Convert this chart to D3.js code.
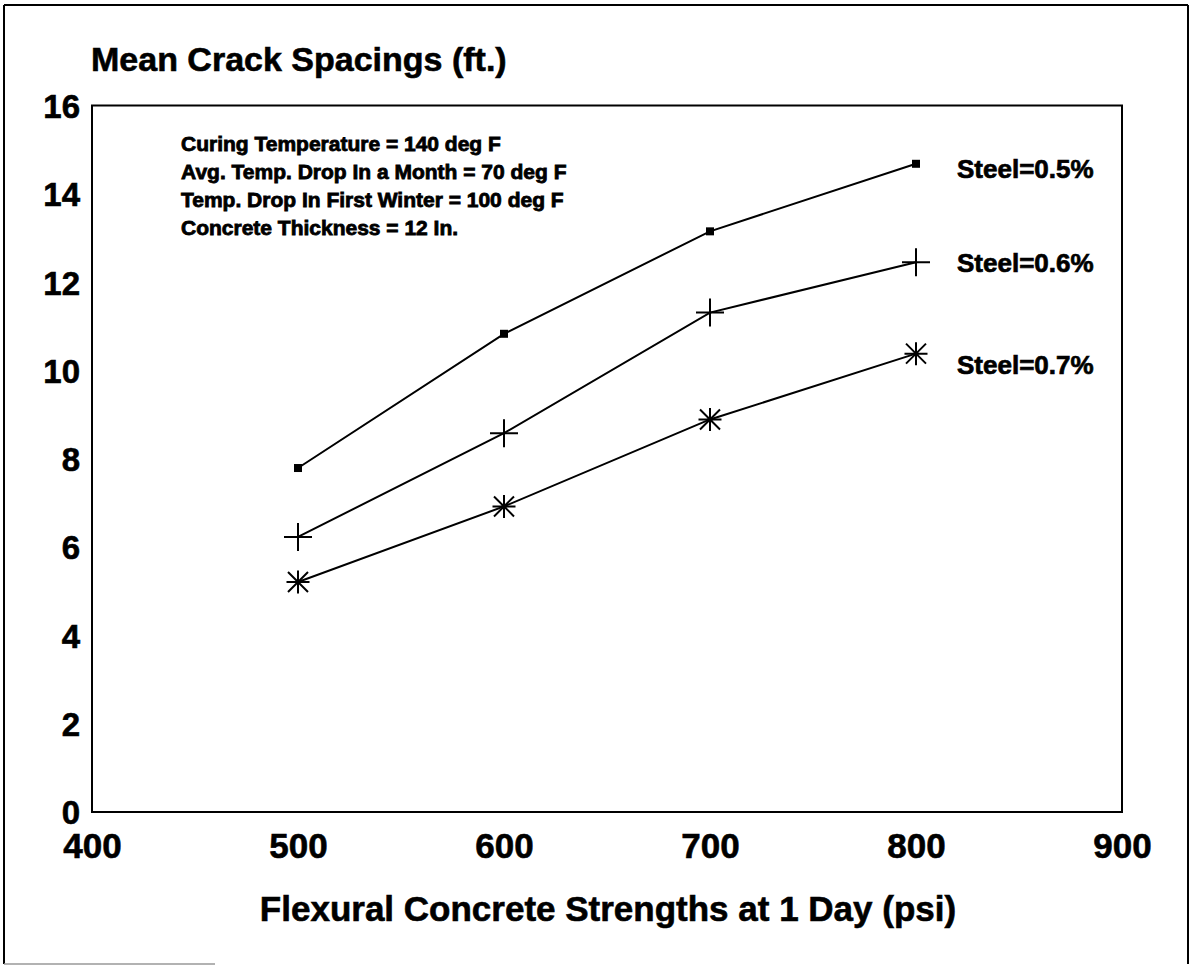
<!DOCTYPE html>
<html>
<head>
<meta charset="utf-8">
<script src="https://cdn.jsdelivr.net/npm/d3@7"></script>
<style>
  html, body { margin: 0; padding: 0; background: #fff; }
  svg text { font-family: "Liberation Sans", Arial, Helvetica, sans-serif; font-weight: bold; fill: #000; }
</style>
</head>
<body>
<svg id="chart" width="1193" height="966"></svg>
<script>
// ---- data ----
const strengths = [500, 600, 700, 800];
const steel05 = [7.79, 10.83, 13.15, 14.68];
const steel06 = [6.23, 8.58, 11.31, 12.45];
const steel07 = [5.21, 6.92, 8.89, 10.38];
const seriesNames = ["Steel=0.5%", "Steel=0.6%", "Steel=0.7%"];
const seriesMarkers = ["square", "plus", "asterisk"];
const xTicks = [400, 500, 600, 700, 800, 900];
const yTicks = [0, 2, 4, 6, 8, 10, 12, 14, 16];
const chartTitle = "Mean Crack Spacings (ft.)";
const xTitle = "Flexural Concrete Strengths at 1 Day (psi)";
const notes = [
  "Curing Temperature = 140 deg F",
  "Avg. Temp. Drop In a Month = 70 deg F",
  "Temp. Drop In First Winter = 100 deg F",
  "Concrete Thickness = 12 In."
];

const series = [steel05, steel06, steel07].map((vals, i) => ({
  name: seriesNames[i], marker: seriesMarkers[i],
  points: strengths.map((s, j) => ({x: s, y: vals[j]}))
}));

// ---- layout ----
const svg = d3.select("#chart");
const plot = {left: 92, right: 1122, top: 105.5, bottom: 812};

const x = d3.scaleLinear().domain([400, 900]).range([plot.left, plot.right]);
const y = d3.scaleLinear().domain([0, 16]).range([plot.bottom, plot.top]);

// outer frame
svg.append("line").attr("x1", 4).attr("y1", 5).attr("x2", 1188).attr("y2", 5).attr("stroke", "#000").attr("stroke-width", 2);
svg.append("line").attr("x1", 4).attr("y1", 5).attr("x2", 4).attr("y2", 964).attr("stroke", "#000").attr("stroke-width", 2);
svg.append("line").attr("x1", 1188).attr("y1", 5).attr("x2", 1188).attr("y2", 964).attr("stroke", "#000").attr("stroke-width", 2);
svg.append("line").attr("x1", 4).attr("y1", 964).attr("x2", 215).attr("y2", 964).attr("stroke", "#999").attr("stroke-width", 1.5);

// plot box
svg.append("rect")
  .attr("x", plot.left).attr("y", plot.top)
  .attr("width", plot.right - plot.left).attr("height", plot.bottom - plot.top)
  .attr("fill", "none").attr("stroke", "#000").attr("stroke-width", 2);

// axes (labels only)
const yAxis = svg.append("g").attr("transform", `translate(${plot.left},0)`)
  .call(d3.axisLeft(y).tickValues(yTicks).tickSize(0).tickPadding(12).tickFormat(d3.format("d")));
yAxis.select(".domain").remove();
yAxis.selectAll("text").attr("font-size", 33).attr("dy", "0.36em")
  .style("font-family", "'Liberation Sans', Arial, sans-serif").style("font-weight", "bold")
  .attr("stroke", "#000").attr("stroke-width", 0.6);

const xAxis = svg.append("g").attr("transform", `translate(0,${plot.bottom})`)
  .call(d3.axisBottom(x).tickValues(xTicks).tickSize(0).tickPadding(0).tickFormat(d3.format("d")));
xAxis.select(".domain").remove();
xAxis.selectAll("text").attr("font-size", 35).attr("y", 46).attr("dy", 0)
  .style("font-family", "'Liberation Sans', Arial, sans-serif").style("font-weight", "bold")
  .attr("stroke", "#000").attr("stroke-width", 0.6);

// titles
svg.append("text").attr("x", 91).attr("y", 71).attr("font-size", 34)
  .attr("stroke", "#000").attr("stroke-width", 0.6).text(chartTitle);
svg.append("text").attr("x", 608).attr("y", 921).attr("text-anchor", "middle").attr("font-size", 35)
  .attr("stroke", "#000").attr("stroke-width", 0.6).text(xTitle);

// notes
svg.append("g").attr("transform", "translate(181,0) scale(1.05,1)")
  .selectAll("text").data(notes).join("text")
  .attr("x", 0).attr("y", (d, i) => 151 + i * 28)
  .attr("font-size", 20).attr("stroke", "#000").attr("stroke-width", 0.8)
  .text(d => d);

// lines
const line = d3.line().x(d => x(d.x)).y(d => y(d.y));
svg.append("g").selectAll("path").data(series).join("path")
  .attr("d", d => line(d.points)).attr("fill", "none").attr("stroke", "#000").attr("stroke-width", 2);

// markers
function drawMarker(g, type, cx, cy) {
  if (type === "square") {
    g.append("rect").attr("x", cx - 4).attr("y", cy - 4).attr("width", 8).attr("height", 8).attr("fill", "#000");
  } else if (type === "plus") {
    g.append("path").attr("d", `M${cx-14},${cy}H${cx+14}M${cx},${cy-14}V${cy+14}`)
      .attr("stroke", "#000").attr("stroke-width", 2).attr("fill", "none");
  } else {
    const r = 11.5, d = 10;
    g.append("path").attr("d",
      `M${cx-r},${cy}H${cx+r}M${cx},${cy-r}V${cy+r}M${cx-d},${cy-d}L${cx+d},${cy+d}M${cx-d},${cy+d}L${cx+d},${cy-d}`)
      .attr("stroke", "#000").attr("stroke-width", 2).attr("fill", "none");
  }
}
const mg = svg.append("g");
series.forEach(s => s.points.forEach(p => drawMarker(mg, s.marker, x(p.x), y(p.y))));

// series labels
svg.append("g").selectAll("text").data(series).join("text")
  .attr("x", d => x(d.points[d.points.length - 1].x) + 41)
  .attr("y", (d, i) => y(d.points[d.points.length - 1].y) + [14, 10, 20][i])
  .attr("font-size", 26).attr("stroke", "#000").attr("stroke-width", 0.7)
  .text(d => d.name);
</script>
</body>
</html>
